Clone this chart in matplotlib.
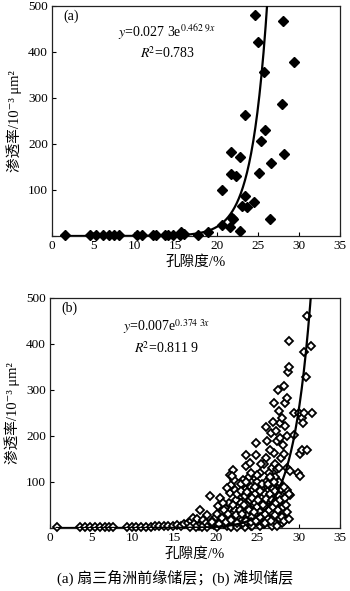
import numpy as np
import matplotlib
matplotlib.use('Agg')
import matplotlib.pyplot as plt

plt.rcParams['font.family'] = ['Liberation Serif', 'Noto Sans CJK SC', 'DejaVu Serif']
plt.rcParams['mathtext.fontset'] = 'stix'
plt.rcParams['axes.unicode_minus'] = True

# ---- data ----
# (a) fan-delta front reservoir
a_x = [1.6, 4.6, 5.4, 6.25, 6.9, 7.5, 8.2, 10.3, 10.9, 12.3, 12.6, 13.7, 14.1,
       14.7, 15.5, 15.7, 16.1, 17.7, 18.95,
       24.7, 25.0, 25.8, 28.1, 29.4, 28.0, 23.5, 25.9, 25.4, 21.8, 22.9, 28.2,
       26.6, 25.2, 21.8, 22.4, 20.7, 23.5, 24.5, 23.1, 23.7, 21.9, 22.0, 26.5,
       20.6, 21.6, 22.9]
a_y = [2, 2, 2, 2, 2, 2, 2, 2, 2, 2, 2, 2, 2,
       3, 3, 8, 4, 1.5, 8,
       480, 422, 357, 468, 379, 288, 262, 230, 207, 182, 171, 178,
       158, 136, 134, 130, 100, 87, 73, 65, 64, 40, 36, 38,
       23, 20, 11]
# points
a_curve_x = [17.6, 19.2, 21.23, 22.85, 23.86, 24.67, 25.28, 26.0]
a_curve_y = [6, 13, 35, 78, 136, 223, 368, 500]
a_eq = r'$y$=0.027 3e$^{0.462\ 9x}$'
a_r2 = r'$R$$^{2}$=0.783'

# (b) beach-bar reservoir
b_x = [0.8, 3.6, 4.2, 4.8, 5.4, 6.0, 6.6, 7.1, 7.6, 9.3, 9.9, 10.4, 11.0, 11.6,
       12.2, 12.7, 13.2, 13.8, 14.3, 14.8, 15.3, 15.8, 16.2, 16.6, 17.0, 17.3,
       17.7, 17.4, 18.0, 18.1, 18.5, 18.8, 19.0, 19.3, 19.5, 19.8, 20.0, 20.3,
       20.5, 20.6, 20.8, 21.1, 21.2, 21.4, 21.7, 21.7, 21.9, 22.1, 22.2, 22.3,
       21.6, 22.0, 22.4, 22.5, 22.7, 22.9, 23.1, 23.3, 23.7, 23.7, 24.1, 23.4,
       23.6, 23.8, 23.9, 24.0, 24.2, 24.3, 24.5, 24.6, 24.8, 24.9, 24.9, 25.0,
       25.2, 25.3, 25.5, 25.6, 25.7, 25.9, 26.1, 26.1, 26.1, 26.2, 26.3, 26.5,
       26.5, 26.6, 26.7, 26.8, 26.9, 27.0, 27.0, 27.0, 27.2, 27.3, 27.4, 27.5,
       27.6, 27.6, 27.7, 27.8, 27.8, 27.9, 27.9, 28.0, 28.1, 28.2, 28.2, 28.4,
       28.4, 28.5, 28.6, 28.6, 28.6, 28.6, 28.7, 28.8, 28.9, 29.0, 29.0, 29.4,
       29.4, 29.9, 30.1, 30.2, 30.2, 30.4, 30.4, 30.5, 30.6, 30.6, 30.9, 31.0,
       31.05, 31.5, 31.6,
       22.8, 23.0, 23.2, 23.5, 23.9, 24.1, 24.4, 24.7, 25.0, 25.1, 25.4, 25.6,
       25.8, 26.0, 26.0, 26.3, 26.4, 26.7, 26.9, 27.1, 27.1, 27.3, 27.5, 27.6,
       27.8, 28.0, 28.1, 28.3, 27.2, 26.6, 26.4, 25.8, 25.4, 24.6, 23.0, 22.6,
       21.0, 20.2, 19.0, 18.3, 17.6, 16.9, 21.8, 22.6, 23.5, 24.3, 25.2, 26.8,
       20.9, 21.4, 22.0, 24.0, 25.0, 26.2, 27.3, 27.8, 28.0, 24.4, 22.3, 23.3,
       27.4, 28.3, 26.9, 27.5,
       19.6, 20.1, 20.4, 20.7, 21.0, 21.3, 21.5, 21.8, 22.1, 22.4, 22.6,
       22.9, 23.0, 23.2, 23.4, 23.6, 23.8, 24.0, 24.2, 24.4, 24.6, 24.8, 24.9,
       25.1, 25.3, 25.4, 25.6, 25.7, 25.9, 26.0, 26.1, 26.3, 26.4, 26.5, 26.7,
       26.8, 26.9, 27.0, 27.1, 27.2, 27.3, 27.4, 27.5, 27.6, 27.7, 27.8, 27.9,
       28.0, 28.1, 28.2, 28.3, 28.4, 28.5, 28.6, 28.8, 28.9, 25.0, 25.5, 24.3,
       23.6, 26.6, 27.6]
b_y = [3, 3, 3, 3, 3, 3, 3, 3, 3, 3, 3, 3, 3, 3,
       3, 4, 4, 5, 4, 5, 6, 5, 8, 10, 15, 22,
       20, 8, 5, 40, 18, 10, 28, 69, 15, 6, 25, 47,
       65, 12, 35, 43, 20, 5, 76, 116, 94, 127, 105, 83,
       55, 30, 60, 15, 45, 8, 69, 105, 134, 159, 141, 35,
       85, 50, 65, 20, 90, 40, 83, 10, 55, 185, 158, 30,
       70, 5, 87, 45, 20, 60, 220, 152, 100, 35, 80, 91,
       12, 50, 207, 130, 25, 272, 162, 65, 110, 40, 190, 85,
       254, 15, 55, 228, 91, 152, 30, 70, 180, 308, 45, 272,
       221, 20, 283, 201, 130, 83, 340, 406, 350, 123, 72, 249,
       203, 120, 251, 160, 112, 239, 170, 228, 249, 382, 328, 169,
       460, 396, 249,
       25, 55, 18, 70, 30, 60, 25, 75, 45, 15, 35, 65,
       8, 45, 75, 20, 60, 35, 85, 10, 45, 70, 25, 100,
       40, 10, 60, 35, 140, 170, 120, 140, 120, 110, 95, 75,
       8, 3, 3, 3, 3, 3, 3, 3, 3, 5, 18, 5,
       55, 88, 112, 110, 100, 190, 210, 195, 240, 5, 40, 10,
       128, 160, 230, 300,
       12, 30, 8, 22, 40, 12, 30, 18, 50, 28, 10,
       40, 80, 30, 50, 15, 78, 40, 12, 65, 35, 90, 15,
       60, 80, 25, 95, 50, 30, 10, 62, 95, 40, 75, 15,
       60, 45, 100, 28, 80, 55, 5, 40, 70, 20, 60, 85,
       25, 45, 90, 15, 65, 50, 35, 75, 20, 115, 140, 120,
       100, 110, 130]
b_curve_x = [23.5, 27.15, 28.16, 28.97, 29.97, 30.78, 31.17]
b_curve_y = [12, 68, 119, 170, 249, 329, 434]
b_eq = r'$y$=0.007e$^{0.374\ 3x}$'
b_r2 = r'$R$$^{2}$=0.811 9'

x_ticks = [0, 5, 10, 15, 20, 25, 30, 35]
y_ticks = [0, 100, 200, 300, 400, 500]
y_tick_labels = ['', '100', '200', '300', '400', '500']

x_label = '孔隙度/%'
y_label = '渗透率/10⁻³ μm²'
caption = '(a) 扇三角洲前缘储层；(b) 滩坝储层'

W, H = 350, 591
fig = plt.figure(figsize=(W / 100, H / 100), dpi=100)


def px_axes(left, top, right, bottom):
    return fig.add_axes([left / W, 1 - bottom / H, (right - left) / W, (bottom - top) / H])


def style_axes(ax):
    ax.set_xlim(0, 35)
    ax.set_ylim(0, 500)
    ax.set_xticks(x_ticks)
    ax.set_yticks(y_ticks)
    ax.set_yticklabels(y_tick_labels)
    ax.tick_params(direction='in', length=3, width=0.8, labelsize=9.5, pad=3)
    for s in ax.spines.values():
        s.set_linewidth(0.9)
        s.set_color('#222222')
    ax.set_xlabel(x_label, fontsize=10.5, labelpad=2)
    ax.set_ylabel(y_label, fontsize=10.5, labelpad=4)


def draw_curve(ax, cx, cy, x0):
    b, ln_a = np.polyfit(cx, np.log(cy), 1)
    xs = np.linspace(x0, 35, 400)
    ax.plot(xs, np.exp(ln_a) * np.exp(b * xs), color='black', lw=1.6, zorder=4)


# panel (a)
ax1 = px_axes(52, 6, 340, 236)
ax1.plot(a_x, a_y, ls='none', marker='D', ms=4.6, color='black', zorder=3,
         clip_on=False)
draw_curve(ax1, a_curve_x, a_curve_y, 1.6)
style_axes(ax1)
ax1.text(0.04, 0.955, '(a)', transform=ax1.transAxes, fontsize=10, va='center')
ax1.text(14.0, 443, a_eq, ha='center', va='center', fontsize=10)
ax1.text(14.0, 398, a_r2, ha='center', va='center', fontsize=10)

# panel (b)
ax2 = px_axes(50, 298, 340, 528)
ax2.plot(b_x, b_y, ls='none', marker='D', ms=3.6, mfc='white', mec='black',
         mew=1.3, zorder=3, clip_on=False)
draw_curve(ax2, b_curve_x, b_curve_y, 0.8)
style_axes(ax2)
ax2.text(0.04, 0.955, '(b)', transform=ax2.transAxes, fontsize=10, va='center')
ax2.text(14.1, 437, b_eq, ha='center', va='center', fontsize=10)
ax2.text(14.1, 391, b_r2, ha='center', va='center', fontsize=10)

fig.text(0.5, 1 - 578 / H, caption, ha='center', va='center', fontsize=10.8)

fig.savefig('out.png', dpi=100)
